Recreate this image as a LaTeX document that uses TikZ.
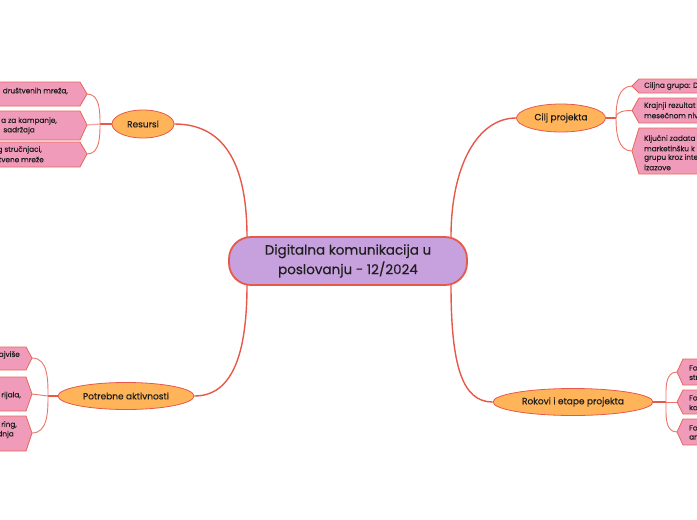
\documentclass[tikz,border=0pt]{standalone}
\usepackage{fontspec}
\setmainfont{Poppins}[FakeBold=0.35]
\usetikzlibrary{shapes.geometric}
\definecolor{linec}{HTML}{E8584A}
\definecolor{brc}{HTML}{EE7468}
\definecolor{midc}{HTML}{F4A5A5}
\definecolor{pinkf}{HTML}{F09BB9}
\definecolor{leafline}{HTML}{E8665A}
\definecolor{orangef}{HTML}{FFB45A}
\definecolor{purplef}{HTML}{C7A1DD}
\definecolor{txt}{HTML}{1E1E1E}
\begin{document}
\begin{tikzpicture}[x=1pt,y=-1pt,
  mainbox/.style={rectangle, rounded corners=22pt, draw=linec, line width=1.8pt, fill=purplef,
    minimum width=238pt, minimum height=48pt, align=center, inner sep=0pt,
    font=\fontsize{13.5}{19.5}\selectfont, text=txt},
  topic/.style={ellipse, draw=linec, line width=0.8pt, fill=orangef, inner sep=0pt,
    font=\fontsize{9}{11}\selectfont, text=txt},
  leaf/.style={draw=leafline, line width=0.8pt, fill=pinkf},
  leaftext/.style={font=\fontsize{7.3}{9}\selectfont, text=txt, inner sep=0pt},
  conn/.style={draw=linec, line width=1.4pt},
  br/.style={draw=brc, line width=0.9pt},
  mid/.style={draw=midc, line width=1.2pt}]
\clip (0,0) rectangle (697,520);
\fill[white] (0,0) rectangle (697,520);

% central and main topics
\node[mainbox] (c) at (348,261) {Digitalna komunikacija u\\poslovanju - 12/2024};
\node[topic, minimum width=62pt, minimum height=28pt] (res) at (143,124) {Resursi};
\node[topic, minimum width=89pt, minimum height=28pt] (cilj) at (561,118) {Cilj projekta};
\node[topic, minimum width=136pt, minimum height=27pt] (pot) at (126,396) {Potrebne aktivnosti};
\node[topic, minimum width=160pt, minimum height=27pt] (rok) at (573,402) {Rokovi i etape projekta};

\coordinate (c1) at (247,237);
\coordinate (c2) at (451,237);
\coordinate (c3) at (247,285);
\coordinate (c4) at (451,285);

\draw[conn] (res.east) .. controls (228,124) and (247,170) .. (c1);
\draw[conn] (cilj.west) .. controls (478,118) and (451,165) .. (c2);
\draw[conn] (c3) .. controls (247,355) and (232,396) .. (pot.east);
\draw[conn] (c4) .. controls (451,365) and (462,402) .. (rok.west);

% ---------- Resursi leaves (left, clipped)
\coordinate (r1) at (87,94);
\coordinate (r2) at (87,125);
\coordinate (r3) at (87,154);
\draw[leaf] (-10,82) -- (80,82) -- (r1) -- (80,106) -- (-10,106) -- cycle;
\draw[leaf] (-10,111) -- (80,111) -- (r2) -- (80,140) -- (-10,140) -- cycle;
\draw[leaf] (-10,142) -- (80,142) -- (r3) -- (80,167) -- (-10,167) -- cycle;
\node[leaftext, anchor=east] (r1a) at (68,91) {društvenih mreža,};
\node[leaftext, anchor=east] (r2a) at (57,121) {a za kampanje,};
\node[leaftext, anchor=east] (r2b) at (35,130.5) {sadržaja};
\node[leaftext, anchor=east] (r3a) at (42,150) {g stručnjaci,};
\node[leaftext, anchor=east] (r3b) at (44,159.5) {tvene mreže};
\coordinate (rj) at (100,124);
\draw[conn, line width=1.1pt] (res.west) -- (rj);
\draw[br] (rj) to[out=90,in=0] (r1);
\draw[br] (rj) to[out=-90,in=0] (r3);
\draw[mid] (rj) -- (r2);

% ---------- Potrebne aktivnosti leaves (left, clipped)
\coordinate (p1) at (32,358);
\coordinate (p2) at (32,394);
\coordinate (p3) at (32,433);
\draw[leaf] (-10,347) -- (26,347) -- (p1) -- (26,370) -- (-10,370) -- cycle;
\draw[leaf] (-10,377) -- (26,377) -- (p2) -- (26,411) -- (-10,411) -- cycle;
\draw[leaf] (-10,416) -- (26,416) -- (p3) -- (26,451) -- (-10,451) -- cycle;
\node[leaftext, anchor=east] (p1a) at (20,355) {ajviše};
\node[leaftext, anchor=east] (p2a) at (21,395.5) {rijala,};
\node[leaftext, anchor=east] (p3a) at (17,425) {ring,};
\node[leaftext, anchor=east] (p3b) at (14,434.5) {dnja};
\coordinate (pj) at (48,396);
\draw[conn, line width=1.1pt] (pot.west) -- (pj);
\draw[br] (pj) to[out=90,in=0] (p1);
\draw[br] (pj) to[out=-90,in=0] (p3);
\draw[br] (pj) -- (p2);

% ---------- Cilj projekta leaves (right, clipped)
\coordinate (k1) at (632,86);
\coordinate (k2) at (632,110.5);
\coordinate (k3) at (632,151);
\draw[leaf] (710,79) -- (639,79) -- (k1) -- (639,93) -- (710,93) -- cycle;
\draw[leaf] (710,98) -- (639,98) -- (k2) -- (639,123) -- (710,123) -- cycle;
\draw[leaf] (710,128) -- (639,128) -- (k3) -- (639,174) -- (710,174) -- cycle;
\node[leaftext, anchor=west] (k1a) at (644,86) {Ciljna grupa: D};
\node[leaftext, anchor=west] (k2a) at (644,106) {Krajnji rezultat};
\node[leaftext, anchor=west] (k2b) at (644,115.5) {mesečnom nivo};
\node[leaftext, anchor=west] (k3a) at (644,139) {Ključni zadata};
\node[leaftext, anchor=west] (k3b) at (644,148.5) {marketinšku k};
\node[leaftext, anchor=west] (k3c) at (644,158) {grupu kroz inte};
\node[leaftext, anchor=west] (k3d) at (644,167.5) {izazove};
\coordinate (kj) at (616,118);
\draw[conn, line width=1.1pt] (cilj.east) -- (kj);
\draw[br] (kj) to[out=90,in=180] (k1);
\draw[br] (kj) to[out=90,in=180] (k2);
\draw[br] (kj) to[out=-90,in=180] (k3);

% ---------- Rokovi leaves (right, clipped)
\coordinate (o1) at (677,372);
\coordinate (o2) at (677,402);
\coordinate (o3) at (677,432);
\draw[leaf] (710,359) -- (683,359) -- (o1) -- (683,385) -- (710,385) -- cycle;
\draw[leaf] (710,390) -- (683,390) -- (o2) -- (683,414) -- (710,414) -- cycle;
\draw[leaf] (710,419) -- (683,419) -- (o3) -- (683,445) -- (710,445) -- cycle;
\node[leaftext, anchor=west] (o1a) at (689,368) {Fo};
\node[leaftext, anchor=west] (o1b) at (689,377.5) {str};
\node[leaftext, anchor=west] (o2a) at (689,398) {Fo};
\node[leaftext, anchor=west] (o2b) at (689,407.5) {ko};
\node[leaftext, anchor=west] (o3a) at (689,428) {Fo};
\node[leaftext, anchor=west] (o3b) at (689,437.5) {an};
\coordinate (oj) at (666,402);
\draw[conn, line width=1.1pt] (rok.east) -- (oj);
\draw[br] (oj) to[out=90,in=180] (o1);
\draw[br] (oj) to[out=-90,in=180] (o3);
\draw[br] (oj) -- (o2);
\end{tikzpicture}
\end{document}
